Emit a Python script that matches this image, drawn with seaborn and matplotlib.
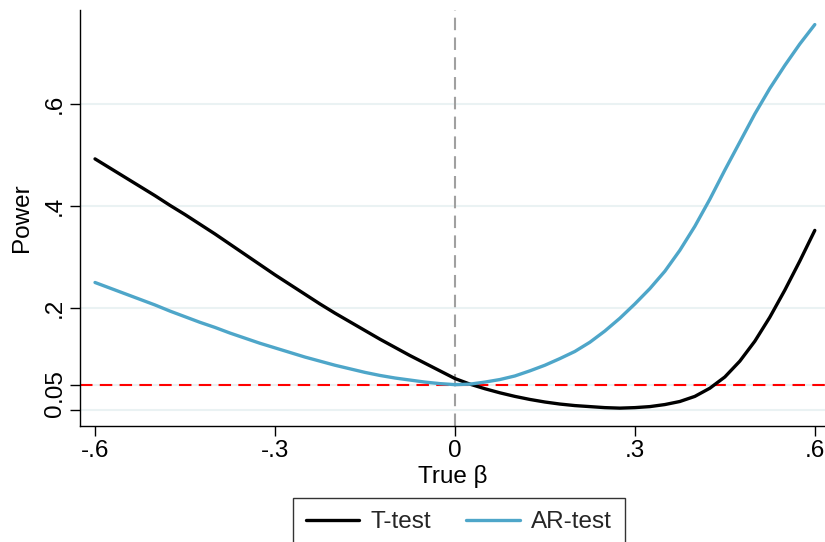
import matplotlib
matplotlib.use("Agg")
import matplotlib.pyplot as plt
import seaborn as sns
import pandas as pd

# Values
beta = [-0.600, -0.575, -0.550, -0.525, -0.500, -0.475, -0.450, -0.425, -0.400, -0.375,
        -0.350, -0.325, -0.300, -0.275, -0.250, -0.225, -0.200, -0.175, -0.150, -0.125,
        -0.100, -0.075, -0.050, -0.025, 0.000, 0.025, 0.050, 0.075, 0.100, 0.125,
        0.150, 0.175, 0.200, 0.225, 0.250, 0.275, 0.300, 0.325, 0.350, 0.375,
        0.400, 0.425, 0.450, 0.475, 0.500, 0.525, 0.550, 0.575, 0.600]
t_test = [0.492, 0.474, 0.456, 0.438, 0.420, 0.401, 0.383, 0.364, 0.345, 0.325,
          0.305, 0.285, 0.265, 0.246, 0.227, 0.208, 0.190, 0.173, 0.156, 0.139,
          0.123, 0.107, 0.092, 0.077, 0.062, 0.051, 0.042, 0.034, 0.027, 0.021,
          0.016, 0.012, 0.009, 0.007, 0.005, 0.004, 0.005, 0.007, 0.011, 0.017,
          0.027, 0.043, 0.065, 0.096, 0.135, 0.182, 0.235, 0.292, 0.352]
ar_test = [0.250, 0.239, 0.228, 0.217, 0.206, 0.194, 0.183, 0.172, 0.162, 0.151,
           0.141, 0.131, 0.122, 0.113, 0.104, 0.096, 0.088, 0.081, 0.074, 0.068,
           0.063, 0.059, 0.055, 0.052, 0.050, 0.051, 0.055, 0.060, 0.067, 0.077,
           0.088, 0.101, 0.115, 0.133, 0.155, 0.180, 0.208, 0.238, 0.272, 0.313,
           0.360, 0.413, 0.470, 0.525, 0.580, 0.630, 0.675, 0.717, 0.755]

yticks = [0, 0.05, 0.2, 0.4, 0.6]
ytick_labels = ["0", ".05", ".2", ".4", ".6"]
xticks = [-0.6, -0.3, 0, 0.3, 0.6]
xtick_labels = ["-.6", "-.3", "0", ".3", ".6"]

df = pd.DataFrame({
    "beta": beta * 2,
    "power": t_test + ar_test,
    "test": ["T-test"] * len(beta) + ["AR-test"] * len(beta),
})

sns.set_theme(style="white")
plt.rcParams["font.family"] = ["Liberation Sans", "DejaVu Sans"]

fig = plt.figure(figsize=(8.25, 5.42), dpi=100)
ax = fig.add_axes([0.097, 0.214, 0.903, 0.768])

ax.yaxis.grid(True, color="#EAF2F3", linewidth=1.5)
ax.set_axisbelow(True)

ax.axhline(0.05, color="#FF0000", linestyle=(0, (6, 3.5)), linewidth=1.5, zorder=2)
ax.axvline(0, color="#A0A0A0", linestyle=(0, (6, 3.5)), linewidth=1.5, zorder=2)

sns.lineplot(data=df, x="beta", y="power", hue="test", ax=ax,
             palette={"T-test": "black", "AR-test": "#4EA6C9"},
             linewidth=2.4, zorder=3)

ax.set_xlim(-0.625, 0.617)
ax.set_ylim(-0.031, 0.784)
ax.set_xticks(xticks)
ax.set_xticklabels(xtick_labels)
ax.set_yticks(yticks)
ax.set_yticklabels(ytick_labels, rotation=90, va="center")
ax.tick_params(axis="both", direction="out", length=7, width=1, color="black",
               labelsize=17.5, labelcolor="black", pad=3, left=True, bottom=True)

for side in ["top", "right"]:
    ax.spines[side].set_visible(False)
for side in ["left", "bottom"]:
    ax.spines[side].set_color("black")
    ax.spines[side].set_linewidth(1)

ax.set_xlabel("True β", fontsize=17.5, color="black", labelpad=2)
ax.set_ylabel("Power", fontsize=17.5, color="black", labelpad=8)

ax.legend_.remove()
handles, labels = ax.get_legend_handles_labels()
leg = fig.legend(handles, labels, loc="upper center", bbox_to_anchor=(0.556, 0.081),
                 ncol=2, fontsize=17.5, frameon=True, fancybox=False, edgecolor="black",
                 handlelength=2.2, handletextpad=0.45, columnspacing=1.45,
                 borderpad=0.55, borderaxespad=0)
leg.get_frame().set_linewidth(1)
for line in leg.get_lines():
    line.set_linewidth(2.4)

fig.savefig("out.png", dpi=100)
